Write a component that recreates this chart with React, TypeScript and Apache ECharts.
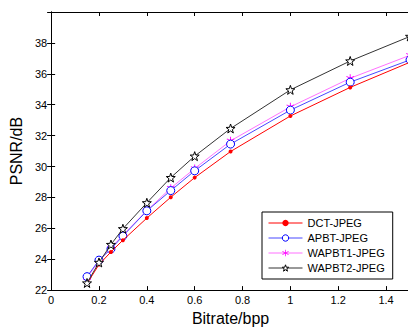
import React, { useEffect, useRef } from "react";
import * as echarts from "echarts";

const bitrates = [0.15, 0.2, 0.25, 0.3, 0.4, 0.5, 0.6, 0.75, 1, 1.25, 1.5];
const dctJpeg = [22.42, 23.65, 24.47, 25.23, 26.66, 28.01, 29.28, 30.97, 33.27, 35.12, 36.75];
const apbtJpeg = [22.87, 23.94, 24.66, 25.5, 27.13, 28.44, 29.72, 31.45, 33.65, 35.46, 36.9];
const wapbt1Jpeg = [22.8, 23.9, 24.72, 25.56, 27.15, 28.6, 29.87, 31.66, 33.86, 35.71, 37.2];
const wapbt2Jpeg = [22.46, 23.79, 24.95, 25.97, 27.65, 29.28, 30.67, 32.46, 34.96, 36.83, 38.42];
const seriesNames = ["DCT-JPEG", "APBT-JPEG", "WAPBT1-JPEG", "WAPBT2-JPEG"];

const STAR =
  "path://M0,-10 L2.35,-3.24 L9.51,-3.09 L3.8,1.24 L5.88,8.09 L0,4 L-5.88,8.09 L-3.8,1.24 L-9.51,-3.09 L-2.35,-3.24 Z";
const ASTER =
  "path://M-1,-10 L1,-10 L1,-2.5 L7.5,-6.2 L8.5,-4.5 L2,-0.8 L8.5,3 L7.5,4.7 L1,1 L1,8.5 L-1,8.5 L-1,1 L-7.5,4.7 L-8.5,3 L-2,-0.8 L-8.5,-4.5 L-7.5,-6.2 L-1,-2.5 Z";

const FONT = "Liberation Sans, Arial, sans-serif";

export default function App() {
  const ref = useRef<HTMLDivElement>(null);
  useEffect(() => {
    if (!ref.current) return;
    const chart = echarts.init(ref.current, null, { renderer: "svg" });
    const pts = (ys: number[]) => bitrates.map((x, i) => [x, ys[i]]);
    const axisLine = { show: true, lineStyle: { color: "#000", width: 1 } };
    const tick = { show: true, inside: true, length: 4, lineStyle: { color: "#000", width: 1 } };
    chart.setOption({
      animation: false,
      backgroundColor: "#fff",
      grid: { left: 48, top: 12, width: 362, height: 283, containLabel: false },
      legend: {
        orient: "vertical",
        left: 262,
        top: 212,
        itemWidth: 34,
        itemHeight: 8,
        itemGap: 1,
        padding: [4, 8, 4, 6],
        borderColor: "#000",
        borderWidth: 1,
        backgroundColor: "#fff",
        lineStyle: { width: 1 },
        textStyle: { fontFamily: FONT, fontSize: 11, color: "#000", lineHeight: 14 },
        data: [
          { name: seriesNames[0] },
          { name: seriesNames[1], itemStyle: { color: "#fff", borderColor: "#0000ff", borderWidth: 1 } },
          { name: seriesNames[2] },
          { name: seriesNames[3], itemStyle: { color: "#fff", borderColor: "#000", borderWidth: 1 } },
        ],
      },
      xAxis: [
        {
          type: "value",
          min: 0,
          max: 1.5,
          interval: 0.2,
          name: "Bitrate/bpp",
          nameLocation: "middle",
          nameGap: 14,
          nameTextStyle: { fontFamily: FONT, fontSize: 16, color: "#000" },
          axisLine,
          axisTick: tick,
          splitLine: { show: false },
          axisLabel: { fontFamily: FONT, fontSize: 11, color: "#000", margin: 4, showMaxLabel: false },
        },
        {
          type: "value",
          position: "top",
          min: 0,
          max: 1.5,
          interval: 0.2,
          axisLine,
          axisTick: tick,
          splitLine: { show: false },
          axisLabel: { show: false },
        },
      ],
      yAxis: [
        {
          type: "value",
          min: 22,
          max: 40,
          interval: 2,
          name: "PSNR/dB",
          nameLocation: "middle",
          nameGap: 22,
          nameTextStyle: { fontFamily: FONT, fontSize: 16, color: "#000" },
          axisLine,
          axisTick: tick,
          splitLine: { show: false },
          axisLabel: { fontFamily: FONT, fontSize: 11, color: "#000", margin: 4, showMaxLabel: false },
        },
        {
          type: "value",
          position: "right",
          min: 22,
          max: 40,
          interval: 2,
          axisLine,
          axisTick: tick,
          splitLine: { show: false },
          axisLabel: { show: false },
        },
      ],
      series: [
        {
          name: seriesNames[0],
          type: "line",
          data: pts(dctJpeg),
          symbol: "circle",
          symbolSize: 4,
          itemStyle: { color: "#ff0000" },
          lineStyle: { color: "#ff0000", width: 1 },
          z: 4,
        },
        {
          name: seriesNames[1],
          type: "line",
          data: pts(apbtJpeg),
          symbol: "circle",
          symbolSize: 8,
          itemStyle: { color: "#fff", borderColor: "#0000ff", borderWidth: 1 },
          lineStyle: { color: "#4848ff", width: 1 },
          z: 3,
        },
        {
          name: seriesNames[2],
          type: "line",
          data: pts(wapbt1Jpeg),
          symbol: ASTER,
          symbolSize: 8,
          itemStyle: { color: "#ff00ff" },
          lineStyle: { color: "#ff70ff", width: 1 },
          z: 2,
        },
        {
          name: seriesNames[3],
          type: "line",
          data: pts(wapbt2Jpeg),
          symbol: STAR,
          symbolSize: 9,
          itemStyle: { color: "#fff", borderColor: "#000", borderWidth: 1 },
          lineStyle: { color: "#333", width: 1 },
          z: 5,
        },
      ],
    });
    return () => chart.dispose();
  }, []);
  return (
    <div style={{ position: "absolute", left: 0, top: 0, width: 408, height: 331, overflow: "hidden" }}>
      <div ref={ref} style={{ width: 420, height: 331 }} />
    </div>
  );
}
